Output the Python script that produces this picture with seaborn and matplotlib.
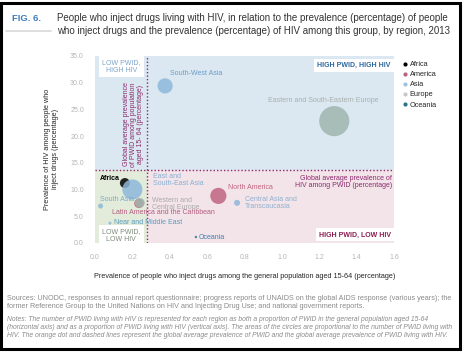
import matplotlib
matplotlib.use("Agg")
import matplotlib.pyplot as plt
import seaborn as sns
import pandas as pd
from matplotlib.lines import Line2D
from matplotlib.patches import Rectangle

# Values
regions = ["Africa", "North America", "Latin America and the Caribbean",
           "East and South-East Asia", "South Asia", "South-West Asia",
           "Central Asia and Transcaucasia", "Near and Middle East",
           "Eastern and South-Eastern Europe", "Western and Central Europe", "Oceania"]
continents = ["Africa", "America", "America", "Asia", "Asia", "Asia", "Asia", "Asia",
              "Europe", "Europe", "Oceania"]
pwid_prev = [0.16, 0.66, 0.235, 0.20, 0.03, 0.375, 0.76, 0.08, 1.28, 0.24, 0.54]
hiv_prev = [11.2, 8.8, 7.4, 10.0, 6.9, 29.4, 7.5, 3.7, 22.8, 7.5, 1.1]
pwid_hiv = [100, 260, 90, 400, 25, 230, 36, 9, 900, 95, 6]  # thousands, bubble area

avg_pwid = 0.28
avg_hiv = 13.7
x_ticks = [0.0, 0.2, 0.4, 0.6, 0.8, 1.0, 1.2, 1.4, 1.6]
y_ticks = [0.0, 5.0, 10.0, 15.0, 20.0, 25.0, 30.0, 35.0]

legend_names = ["Africa", "America", "Asia", "Europe", "Oceania"]
palette = {"Africa": "#000000", "America": "#c0647f", "Asia": "#8db8da",
           "Europe": "#9fb6ae", "Oceania": "#2c7a8c"}
legend_colors = ["#000000", "#b9607f", "#9cc3e0", "#c9c9c9", "#2a7588"]

df = pd.DataFrame({"region": regions, "continent": continents,
                   "pwid": pwid_prev, "hiv": hiv_prev, "n": pwid_hiv})

sns.set_style("white")
plt.rcParams["font.family"] = ["Liberation Sans", "DejaVu Sans"]

fig = plt.figure(figsize=(4.68, 3.52), dpi=100)
ax = fig.add_axes([0.203, 0.310, 0.639, 0.531])

# quadrant shading
ax.axvspan(0, 1.6, ymin=avg_hiv / 35, ymax=1, color="#dbe8f1", lw=0, zorder=0)
ax.add_patch(Rectangle((0, 0), avg_pwid, avg_hiv, color="#e3ecda", lw=0, zorder=0))
ax.add_patch(Rectangle((avg_pwid, 0), 1.6 - avg_pwid, avg_hiv, color="#f3e4e9", lw=0, zorder=0))

sns.scatterplot(data=df, x="pwid", y="hiv", hue="continent", palette=palette,
                size="n", sizes=(0, 470), size_norm=(0, 900), alpha=0.85,
                linewidth=0, legend=False, ax=ax, zorder=3)

ax.axvline(avg_pwid, color="#8b2a6d", ls=(0, (1, 1.5)), lw=1, zorder=2)
ax.axhline(avg_hiv, color="#8b2a6d", ls=(0, (1, 1.5)), lw=1, zorder=2)

ax.set_xlim(0, 1.6)
ax.set_ylim(0, 35)
ax.set_xticks(x_ticks)
ax.set_yticks(y_ticks)
ax.set_xticklabels([f"{v:.1f}" for v in x_ticks])
ax.set_yticklabels([f"{v:.1f}" for v in y_ticks])
ax.tick_params(labelsize=5, colors="#b5b5b5", length=2, width=0.5, pad=6)
for s in ax.spines.values():
    s.set_visible(False)

ax.set_xlabel("Prevalence of people who inject drugs among the general population aged 15-64 (percentage)",
              fontsize=5.2, labelpad=9)
ax.set_ylabel("Prevalence of HIV among people who\ninject drugs (percentage)", fontsize=5.2, labelpad=8)

# region labels
lab = dict(fontsize=5, zorder=5)
ax.text(0.025, 12.0, "Africa", color="black", fontweight="bold", va="center", **lab)
ax.text(0.31, 11.8, "East and\nSouth-East Asia", color="#86afd2", va="center", linespacing=0.95, **lab)
ax.text(0.025, 8.2, "South Asia", color="#7aa8cf", va="center", **lab)
ax.text(0.305, 7.3, "Western and\nCentral Europe", color="#a9a9a9", va="center", linespacing=0.9, **lab)
ax.text(0.09, 5.6, "Latin America and the Caribbean", color="#b45d80", va="center", **lab)
ax.text(0.10, 3.9, "Near and Middle East", color="#5b9bbd", va="center", **lab)
ax.text(0.555, 1.1, "Oceania", color="#3f7fb0", va="center", **lab)
ax.text(0.71, 10.4, "North America", color="#c0647f", va="center", **lab)
ax.text(0.80, 7.5, "Central Asia and\nTranscaucasia", color="#8db1d0", va="center", linespacing=0.95, **lab)
ax.text(0.40, 31.8, "South-West Asia", color="#6c9cc6", va="center", **lab)
ax.text(1.22, 26.6, "Eastern and South-Eastern Europe", color="#a9aeac", va="center", ha="center", **lab)

# quadrant boxes
box = dict(boxstyle="square,pad=0.45", fc="white", ec="none")
ax.text(0.14, 33.1, "LOW PWID,\nHIGH HIV", color="#7aa3c9", fontsize=5, ha="center", va="center",
        bbox=box, zorder=5)
ax.text(1.385, 33.2, "HIGH PWID, HIGH HIV", color="#2d699e", fontsize=5, fontweight="bold",
        ha="center", va="center", bbox=box, zorder=5)
ax.text(0.14, 1.4, "LOW PWID,\nLOW HIV", color="#7b8a78", fontsize=5, ha="center", va="center",
        bbox=box, zorder=5)
ax.text(1.39, 1.5, "HIGH PWID, LOW HIV", color="#8a1c4f", fontsize=5, fontweight="bold",
        ha="center", va="center", bbox=box, zorder=5)

ax.text(0.205, 22.2, "Global average prevalence\nof PWID among population\naged 15- 64 (percentage)",
        color="#8b2a6d", fontsize=5, rotation=90, ha="center", va="center", linespacing=0.95, zorder=5)
ax.text(1.59, 11.4, "Global average prevalence of\nHIV among PWID (percentage)", color="#8b2a6d",
        fontsize=5, ha="right", va="center", linespacing=1.0, zorder=5)

# legend
handles = [Line2D([], [], ls="", marker="o", ms=3, mew=0, color=c) for c in legend_colors]
fig.legend(handles, legend_names, loc="upper left", bbox_to_anchor=(0.853, 0.835), frameon=False,
           fontsize=5.3, handletextpad=0.2, labelspacing=0.4, handlelength=0.8, borderaxespad=0)

# title block
fig.text(0.026, 0.948, "FIG. 6.", color="#3d7cc0", fontsize=6.8, fontweight="bold", va="center")
fig.add_artist(Line2D([0.012, 0.11], [0.912, 0.912], color="#d8d8d8", lw=1.2))
fig.text(0.122, 0.948, "People who inject drugs living with HIV, in relation to the prevalence (percentage) of people",
         color="#333333", fontsize=7.0, va="center")
fig.text(0.122, 0.913, "who inject drugs and the prevalence (percentage) of HIV among this group, by region, 2013",
         color="#333333", fontsize=7.0, va="center")

# sources and notes
fig.text(0.014, 0.141,
         "Sources: UNODC, responses to annual report questionnaire; progress reports of UNAIDS on the global AIDS response (various years); the\n"
         "former Reference Group to the United Nations on HIV and Injecting Drug Use; and national government reports.",
         color="#8a8a8a", fontsize=5.2, va="center", linespacing=1.2)
fig.text(0.014, 0.070,
         "Notes: The number of PWID living with HIV is represented for each region as both a proportion of PWID in the general population aged 15-64\n"
         "(horizontal axis) and as a proportion of PWID living with HIV (vertical axis). The areas of the circles are proportional to the number of PWID living with\n"
         "HIV. The orange dot and dashed lines represent the global average prevalence of PWID and the global average prevalence of PWID living with HIV.",
         color="#8a8a8a", fontsize=4.85, style="italic", va="center", linespacing=1.2)

# outer frame
fig.add_artist(Rectangle((0.003, 0.008), 0.98, 0.983, transform=fig.transFigure, fill=False,
                         ec="black", lw=2.2))

fig.savefig("out.png", dpi=100)
